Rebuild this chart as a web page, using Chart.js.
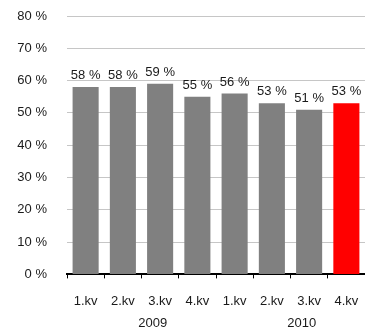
<!DOCTYPE html>
<html>
<head>
<meta charset="utf-8">
<script src="https://cdn.jsdelivr.net/npm/chart.js@4"></script>
<style>
    html, body { margin: 0; padding: 0; background: #fff; }
    #wrap { width: 365px; height: 329px; }
</style>
</head>
<body>
<div id="wrap"><canvas id="bar-chart"></canvas></div>
<script>
// quarters and share per quarter (%)
var quarters = ["1.kv", "2.kv", "3.kv", "4.kv", "1.kv", "2.kv", "3.kv", "4.kv"];
var years = ["2009", "2010"];
var shares = [58, 58, 59, 55, 56, 53, 51, 53];
var barColors = ["#808080", "#808080", "#808080", "#808080", "#808080", "#808080", "#808080", "#ff0000"];

var FONT = "'Liberation Sans', Arial, sans-serif";

// writes "58 %" etc. above each bar, and the year under each group of 4 quarters
var extraLabels = {
    id: "extraLabels",
    afterDatasetsDraw: function (chart) {
        var ctx = chart.ctx;
        var meta = chart.getDatasetMeta(0);
        var x = chart.scales.x;
        ctx.save();
        ctx.font = "13px " + FONT;
        ctx.fillStyle = "#1a1a1a";
        ctx.textAlign = "center";
        ctx.textBaseline = "alphabetic";
        meta.data.forEach(function (bar, i) {
            ctx.fillText(shares[i] + " %", bar.x, bar.y - 8);
        });
        ctx.textBaseline = "middle";
        years.forEach(function (y, g) {
            var a = x.getPixelForValue(g * 4 + 1);
            var b = x.getPixelForValue(g * 4 + 2);
            ctx.fillText(y, a + (b - a) * 0.8, chart.height - 6);
        });
        ctx.restore();
    }
};

Chart.defaults.font.family = FONT;
Chart.defaults.font.size = 13;
Chart.defaults.color = "#1a1a1a";

var ctx = document.getElementById("bar-chart");
var barChart = new Chart(ctx, {
    type: "bar",
    data: {
        labels: quarters,
        datasets: [{
            data: shares,
            backgroundColor: barColors,
            borderWidth: 0,
            categoryPercentage: 1,
            barPercentage: 0.7
        }]
    },
    options: {
        responsive: true,
        maintainAspectRatio: false,
        animation: false,
        layout: { padding: { top: 16, right: 0, left: 0, bottom: 5 } },
        plugins: { legend: { display: false }, tooltip: { enabled: false } },
        scales: {
            x: {
                afterFit: function (s) { s.paddingLeft = 0; s.paddingRight = 0; },
                grid: {
                    offset: true,
                    drawOnChartArea: false,
                    drawTicks: true,
                    tickLength: 4,
                    color: "#000"
                },
                border: { color: "#000", width: 2 },
                ticks: {
                    padding: 15,
                    maxRotation: 0,
                    autoSkip: false
                }
            },
            y: {
                min: 0,
                max: 80,
                afterFit: function (s) {
                    s.width = 67;
                    s.paddingTop = 0;
                    s.paddingBottom = 0;
                },
                grid: { color: "#c6c6c6", lineWidth: 1, drawTicks: false },
                border: { display: false },
                ticks: {
                    stepSize: 10,
                    padding: 20,
                    callback: function (v) { return v + " %"; }
                }
            }
        }
    },
    plugins: [extraLabels]
});
</script>
</body>
</html>
